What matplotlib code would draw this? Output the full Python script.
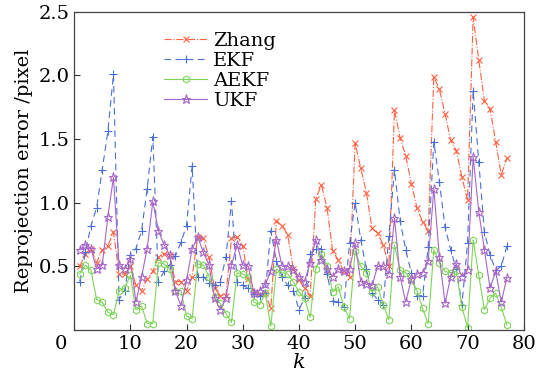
import matplotlib
matplotlib.use("Agg")
import matplotlib.pyplot as plt
import matplotlib.transforms as mtransforms
import numpy as np

k = np.arange(1, 78)

zhang = [0.50, 0.60, 0.64, 0.53, 0.63, 0.66, 0.77, 0.44, 0.44, 0.50,
         0.35, 0.31, 0.40, 0.46, 0.57, 0.60, 0.59, 0.38, 0.38, 0.31,
         0.42, 0.73, 0.72, 0.57, 0.33, 0.27, 0.27, 0.72, 0.73, 0.66,
         0.40, 0.30, 0.28, 0.29, 0.17, 0.86, 0.82, 0.75, 0.48, 0.39,
         0.33, 0.27, 1.03, 1.14, 0.96, 0.62, 0.55, 0.46, 0.42, 1.47,
         1.27, 1.08, 0.80, 0.76, 0.67, 0.50, 1.73, 1.51, 1.37, 1.15,
         0.96, 0.85, 0.78, 1.99, 1.89, 1.70, 1.49, 1.41, 1.20, 1.02,
         2.46, 2.12, 1.80, 1.74, 1.48, 1.22, 1.35]

ekf = [0.38, 0.61, 0.82, 0.96, 1.26, 1.56, 2.01, 0.24, 0.31, 0.59,
       0.64, 0.78, 1.11, 1.52, 0.38, 0.46, 0.51, 0.58, 0.69, 0.82,
       1.29, 0.42, 0.42, 0.37, 0.35, 0.38, 0.57, 1.01, 0.38, 0.35,
       0.33, 0.28, 0.27, 0.29, 0.78, 0.54, 0.42, 0.35, 0.31, 0.16,
       0.25, 0.60, 0.64, 0.64, 0.44, 0.23, 0.22, 0.18, 0.68, 1.00,
       0.71, 0.48, 0.29, 0.24, 0.20, 0.74, 1.26, 0.86, 0.63, 0.45,
       0.27, 0.27, 0.65, 1.48, 1.16, 0.81, 0.63, 0.48, 0.20, 0.68,
       1.88, 1.32, 0.77, 0.59, 0.47, 0.50, 0.66]

aekf = [0.44, 0.51, 0.47, 0.24, 0.22, 0.14, 0.12, 0.31, 0.33, 0.43,
        0.16, 0.19, 0.05, 0.05, 0.53, 0.52, 0.48, 0.31, 0.31, 0.11,
        0.09, 0.52, 0.51, 0.42, 0.26, 0.21, 0.13, 0.06, 0.45, 0.44,
        0.42, 0.22, 0.20, 0.29, 0.03, 0.48, 0.45, 0.44, 0.38, 0.30,
        0.25, 0.10, 0.48, 0.60, 0.50, 0.30, 0.34, 0.18, 0.09, 0.62,
        0.50, 0.45, 0.30, 0.34, 0.20, 0.08, 0.67, 0.47, 0.45, 0.39,
        0.31, 0.17, 0.05, 0.63, 0.53, 0.46, 0.45, 0.46, 0.18, 0.02,
        0.71, 0.43, 0.16, 0.25, 0.29, 0.18, 0.04]

ukf = [0.63, 0.67, 0.64, 0.48, 0.51, 0.89, 1.20, 0.51, 0.48, 0.56,
       0.22, 0.42, 0.64, 1.01, 0.78, 0.67, 0.59, 0.31, 0.19, 0.39,
       0.64, 0.73, 0.61, 0.51, 0.25, 0.16, 0.25, 0.51, 0.67, 0.51,
       0.50, 0.29, 0.31, 0.36, 0.46, 0.71, 0.50, 0.50, 0.47, 0.42,
       0.38, 0.53, 0.71, 0.55, 0.48, 0.42, 0.48, 0.46, 0.48, 0.68,
       0.38, 0.36, 0.35, 0.50, 0.50, 0.44, 0.88, 0.42, 0.22, 0.40,
       0.44, 0.45, 0.54, 1.11, 0.57, 0.21, 0.42, 0.52, 0.42, 0.47,
       1.36, 0.93, 0.63, 0.33, 0.46, 0.22, 0.41]

x_ticks = [0, 10, 20, 30, 40, 50, 60, 70, 80]
y_ticks = [0.5, 1.0, 1.5, 2.0, 2.5]

plt.rcParams['font.family'] = ['DejaVu Serif']
plt.rcParams['mathtext.fontset'] = 'dejavuserif'

fig = plt.figure(figsize=(5.45, 3.82), dpi=100)
ax = fig.add_axes([0.136, 0.136, 0.825, 0.833])

ax.plot(k, zhang, color='#ff6040', linestyle='-.', linewidth=0.8,
        marker='x', markersize=4, markeredgewidth=0.8, label='Zhang')
ax.plot(k, ekf, color='#4a6fd6', linestyle=(0, (6, 4)), linewidth=0.8,
        marker='+', markersize=6, markeredgewidth=0.8, label='EKF')
ax.plot(k, aekf, color='#7fd45a', linestyle='-', linewidth=0.8,
        marker='h', markersize=5, markerfacecolor='none', markeredgewidth=0.8, label='AEKF')
ax.plot(k, ukf, color='#a866c8', linestyle='-', linewidth=0.8,
        marker='*', markersize=6.5, markerfacecolor='none', markeredgewidth=0.8, label='UKF')

ax.set_xlim(0, 80)
ax.set_ylim(0, 2.5)
ax.set_xticks(x_ticks)
ax.set_yticks(y_ticks)
ax.set_yticklabels(['%.1f' % v for v in y_ticks])
ax.tick_params(direction='in', labelsize=14, length=4, width=0.8, colors='#333333', labelcolor='black')
for sp in ax.spines.values():
    sp.set_color('#444444')
    sp.set_linewidth(0.9)

# shift the "0" label left like in the original
lbl = ax.get_xticklabels()[0]
lbl.set_transform(lbl.get_transform() + mtransforms.ScaledTranslation(-13 / 100, 0, fig.dpi_scale_trans))

ax.set_xlabel('$k$', fontsize=15, labelpad=0)
ax.set_ylabel('Reprojection error /pixel', fontsize=14, labelpad=4)

ax.legend(loc='upper left', bbox_to_anchor=(0.17, 0.98), frameon=False, fontsize=14,
          handlelength=2.2, handletextpad=0.3, labelspacing=0.1, borderpad=0.2)

fig.savefig('out.png', dpi=100, facecolor='w')
plt.close(fig)
